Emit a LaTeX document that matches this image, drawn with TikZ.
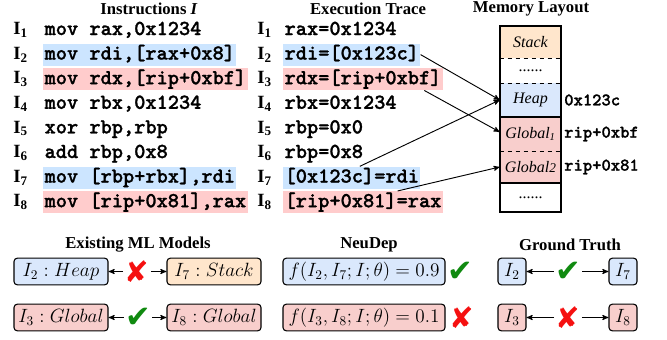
\documentclass[tikz,border=0pt]{standalone}
\usepackage{amsmath,amssymb}
\usepackage[no-math]{fontspec}
\setmainfont{Liberation Serif}
\newfontfamily\symfont{DejaVu Sans}
\newfontfamily\codefont{lmmonolt10-bold}[Extension=.otf, FakeBold=1.2]
\usepackage{xcolor}
\usetikzlibrary{arrows}
\usetikzlibrary{shapes}

\definecolor{hlblue}{HTML}{CCE5FF}
\definecolor{hlpink}{HTML}{FFCCCC}
\definecolor{memstack}{HTML}{FFE6CC}
\definecolor{memheap}{HTML}{DAE8FC}
\definecolor{memglobal}{HTML}{F8CECC}
\definecolor{okgreen}{HTML}{108A10}
\definecolor{nored}{HTML}{F51010}

\tikzset{
  ilabel/.style={anchor=west, inner sep=0pt, font=\fontsize{14}{16}\selectfont\bfseries},
  code/.style={anchor=west, inner xsep=1pt, inner ysep=1.5pt, text height=10.5pt, text depth=3pt,
    font=\fontsize{16}{18}\selectfont\codefont},
  title/.style={font=\fontsize{12.5}{14}\selectfont\bfseries},
  memcell/.style={minimum width=45.75pt, inner sep=0pt, font=\fontsize{12}{14}\selectfont\itshape},
  memaddr/.style={anchor=west, inner sep=0pt, font=\fontsize{13.3}{15}\selectfont\codefont},
  ptr/.style={-stealth', line width=0.7pt},
  cbox/.style={draw, rounded corners=2.5pt, line width=0.8pt, minimum height=20pt, inner sep=0pt,
    font=\fontsize{14}{16}\selectfont},
  okmark/.style={text=okgreen, inner sep=1pt, font=\symfont\fontsize{23}{23}\selectfont},
  badmark/.style={text=nored, inner sep=1pt, font=\symfont\fontsize{22}{22}\selectfont}
}

\begin{document}
\begin{tikzpicture}[x=0.75pt, y=-0.75pt]
  \useasboundingbox (0,0) rectangle (667,339);

  % column titles
  \node[title] (tinsn) at (149,9) {Instructions \textit{I}};
  \node[title] (ttrace) at (368,9) {Execution Trace};
  \node[title] (tmem) at (531,9) {Memory Layout};

  % instruction numbers
  \foreach \k in {1,...,8} {
    \node[ilabel] (li\k) at (13, {30+24.6*(\k-1)}) {I\textsubscript{\k}};
    \node[ilabel] (ti\k) at (257, {30+24.6*(\k-1)}) {I\textsubscript{\k}};
  }

  % instructions
  \node[code] (c1) at (43,30) {mov rax,0x1234};
  \node[code, fill=hlblue] (c2) at (43,54.6) {mov rdi,[rax+0x8]};
  \node[code, fill=hlpink] (c3) at (43,79.2) {mov rdx,[rip+0xbf]};
  \node[code] (c4) at (43,103.8) {mov rbx,0x1234};
  \node[code] (c5) at (43,128.4) {xor rbp,rbp};
  \node[code] (c6) at (43,153) {add rbp,0x8};
  \node[code, fill=hlblue] (c7) at (43,177.6) {mov [rbp+rbx],rdi};
  \node[code, fill=hlpink] (c8) at (43,202.2) {mov [rip+0x81],rax};

  % execution trace
  \node[code] (t1) at (283,30) {rax=0x1234};
  \node[code, fill=hlblue] (t2) at (283,54.6) {rdi=[0x123c]};
  \node[code, fill=hlpink] (t3) at (283,79.2) {rdx=[rip+0xbf]};
  \node[code] (t4) at (283,103.8) {rbx=0x1234};
  \node[code] (t5) at (283,128.4) {rbp=0x0};
  \node[code] (t6) at (283,153) {rbp=0x8};
  \node[code, fill=hlblue] (t7) at (283,177.6) {[0x123c]=rdi};
  \node[code, fill=hlpink] (t8) at (283,202.2) {[rip+0x81]=rax};

  % memory layout
  \node[memcell, fill=memstack, minimum height=24pt] (stack) at (530.5,42) {Stack};
  \node[memcell, minimum height=18.75pt] (gap1) at (530.5,70.5) {\upshape ......};
  \node[memcell, fill=memheap, minimum height=25.5pt] (heap) at (530.5,100) {Heap};
  \node[memcell, fill=memglobal, minimum height=25.5pt] (glob1) at (530.5,134) {Global\textsubscript{\textit{1}}};
  \node[memcell, fill=memglobal, minimum height=24pt] (glob2) at (530.5,167) {Global{\fontsize{10}{10}\selectfont 2}};
  \node[memcell, minimum height=21.75pt] (gap2) at (530.5,197.5) {\upshape ......};
  \draw[dashed, line width=0.6pt] (stack.south west) -- (stack.south east);
  \draw[dashed, line width=0.6pt] (gap1.south west) -- (gap1.south east);
  \draw[line width=1.2pt] (heap.south west) -- (heap.south east);
  \draw[dashed, line width=0.6pt] (glob1.south west) -- (glob1.south east);
  \draw[line width=1.2pt] (glob2.south west) -- (glob2.south east);
  \draw[line width=1.5pt] (stack.north west) rectangle (gap2.south east);

  \node[memaddr] (aheap) at (564,100) {0x123c};
  \node[memaddr] (aglob1) at (564,134) {rip+0xbf};
  \node[memaddr] (aglob2) at (564,167) {rip+0x81};

  % accesses
  \draw[ptr] (t2.east) -- (heap.west);
  \draw[ptr] ([xshift=-14pt]t3.south east) -- ([yshift=1.5pt]glob1.west);
  \draw[ptr] ([xshift=6pt]t7.north) -- (heap.west);
  \draw[ptr] ([xshift=-34pt]t8.north east) -- (glob2.west);

  % existing models
  \node[title] (texist) at (138,245) {Existing ML Models};
  \node[cbox, fill=memheap, minimum width=70.5pt] (mheap) at (61,271.5) {$I_2 : Heap$};
  \node[cbox, fill=memstack, minimum width=70.5pt] (mstack) at (214,271.5) {$I_7 : Stack$};
  \node[badmark] (mx) at (137,271.5) {✘};
  \draw[ptr] (mx) -- (mheap);
  \draw[ptr] (mx) -- (mstack);
  \node[cbox, fill=memglobal, minimum width=70.5pt] (mglob1) at (61,317.5) {$I_3 : Global$};
  \node[cbox, fill=memglobal, minimum width=70.5pt] (mglob2) at (214,317.5) {$I_8 : Global$};
  \node[okmark] (mok) at (138,317.5) {✔};
  \draw[ptr] (mok) -- (mglob1);
  \draw[ptr] (mok) -- (mglob2);

  % neudep
  \node[title] (tneu) at (369,245) {NeuDep};
  \node[cbox, fill=memheap, minimum width=121.5pt] (nheap) at (364,271.5) {$f(I_2, I_7; I; \theta) = 0.9$};
  \node[okmark, anchor=west] (nok) at (446,271.5) {✔};
  \node[cbox, fill=memglobal, minimum width=121.5pt] (nglob) at (364,317.5) {$f(I_3, I_8; I; \theta) = 0.1$};
  \node[badmark, anchor=west] (nx) at (448,317.5) {✘};

  % ground truth
  \node[title] (tgt) at (570,245) {Ground Truth};
  \node[cbox, fill=memheap, minimum width=21pt] (g2) at (512,271.5) {$I_2$};
  \node[cbox, fill=memheap, minimum width=21pt] (g7) at (623,271.5) {$I_7$};
  \node[okmark] (gok) at (568,271.5) {✔};
  \draw[ptr] (gok) -- (g2);
  \draw[ptr] (gok) -- (g7);
  \node[cbox, fill=memglobal, minimum width=21pt] (g3) at (512,317.5) {$I_3$};
  \node[cbox, fill=memglobal, minimum width=21pt] (g8) at (623,317.5) {$I_8$};
  \node[badmark] (gx) at (568,317.5) {✘};
  \draw[ptr] (gx) -- (g3);
  \draw[ptr] (gx) -- (g8);
\end{tikzpicture}
\end{document}
